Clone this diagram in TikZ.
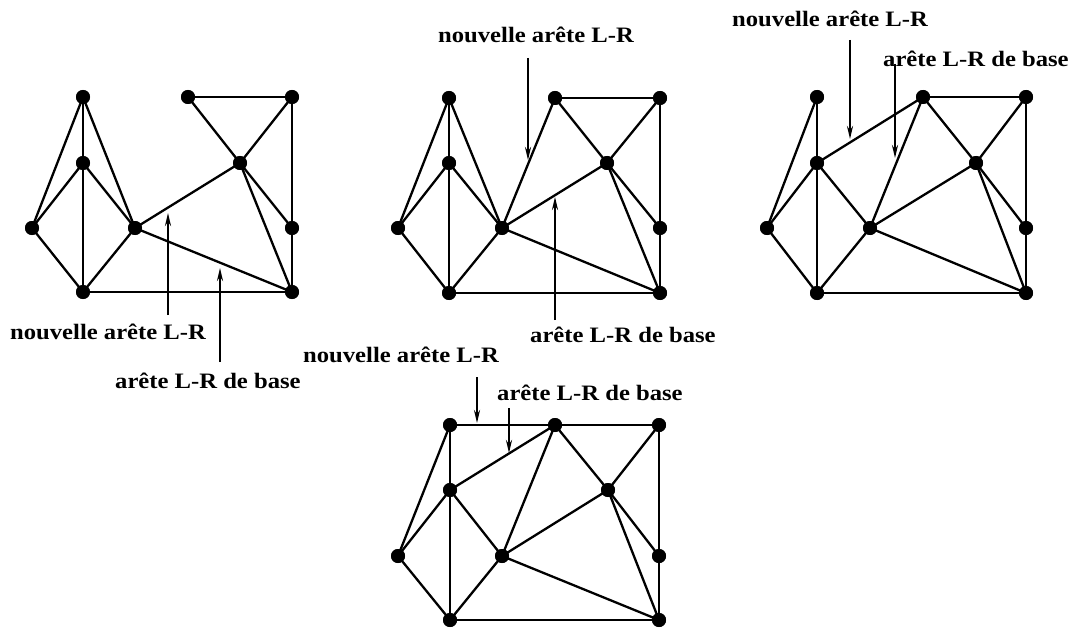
\documentclass[tikz,border=0pt]{standalone}
\usepackage{graphicx}
\usepackage{fontspec}
\setmainfont{Liberation Serif}
\usetikzlibrary{arrows.meta}
\newcommand{\lbltext}[1]{\scalebox{1.12}[1]{#1}}
\begin{document}
\begin{tikzpicture}[x=1pt,y=-1pt,
  vtx/.style={circle,fill=black,inner sep=0pt,minimum size=14pt},
  edge/.style={line width=2.3pt},
  pointer/.style={line width=2pt,-{Stealth[length=13pt,width=6pt]}},
  lbl/.style={inner sep=0pt,anchor=base west,font=\bfseries\fontsize{22}{26}\selectfont}]
\useasboundingbox (0,0) rectangle (1081,631);
\fill[white] (0,0) rectangle (1081,631);

% ---------- graph 1 ----------
\node[vtx] (a1) at (83,97) {};
\node[vtx] (b1) at (83,163) {};
\node[vtx] (c1) at (32,228) {};
\node[vtx] (d1) at (135,228) {};
\node[vtx] (e1) at (83,292) {};
\node[vtx] (f1) at (188,97) {};
\node[vtx] (g1) at (292,97) {};
\node[vtx] (h1) at (240,163) {};
\node[vtx] (i1) at (292,228) {};
\node[vtx] (j1) at (292,292) {};
\foreach \u/\v in {a1/c1,a1/b1,a1/d1,b1/c1,b1/d1,b1/e1,c1/e1,d1/e1,e1/j1,d1/h1,d1/j1,f1/g1,f1/h1,g1/h1,g1/i1,i1/j1,h1/i1,h1/j1}
  \draw[edge] (\u.center) -- (\v.center);

% ---------- graph 2 ----------
\node[vtx] (a2) at (449,98) {};
\node[vtx] (b2) at (449,163) {};
\node[vtx] (c2) at (398,228) {};
\node[vtx] (d2) at (502,228) {};
\node[vtx] (e2) at (449,293) {};
\node[vtx] (f2) at (555,98) {};
\node[vtx] (g2) at (660,98) {};
\node[vtx] (h2) at (607,163) {};
\node[vtx] (i2) at (660,228) {};
\node[vtx] (j2) at (660,293) {};
\foreach \u/\v in {a2/c2,a2/b2,a2/d2,b2/c2,b2/d2,b2/e2,c2/e2,d2/e2,e2/j2,d2/f2,d2/h2,d2/j2,f2/g2,f2/h2,g2/h2,g2/i2,i2/j2,h2/i2,h2/j2}
  \draw[edge] (\u.center) -- (\v.center);

% ---------- graph 3 ----------
\node[vtx] (a3) at (817,97) {};
\node[vtx] (b3) at (817,163) {};
\node[vtx] (c3) at (767,228) {};
\node[vtx] (d3) at (870,228) {};
\node[vtx] (e3) at (817,293) {};
\node[vtx] (f3) at (923,97) {};
\node[vtx] (g3) at (1026,97) {};
\node[vtx] (h3) at (976,163) {};
\node[vtx] (i3) at (1026,228) {};
\node[vtx] (j3) at (1026,293) {};
\foreach \u/\v in {a3/c3,a3/b3,b3/c3,b3/f3,b3/d3,b3/e3,c3/e3,d3/e3,e3/j3,d3/f3,d3/h3,d3/j3,f3/g3,f3/h3,g3/h3,g3/i3,i3/j3,h3/i3,h3/j3}
  \draw[edge] (\u.center) -- (\v.center);

% ---------- graph 4 ----------
\node[vtx] (a4) at (450,425) {};
\node[vtx] (b4) at (450,490) {};
\node[vtx] (c4) at (398,556) {};
\node[vtx] (d4) at (502,556) {};
\node[vtx] (e4) at (450,620) {};
\node[vtx] (f4) at (555,425) {};
\node[vtx] (g4) at (659,425) {};
\node[vtx] (h4) at (608,490) {};
\node[vtx] (i4) at (659,556) {};
\node[vtx] (j4) at (659,620) {};
\foreach \u/\v in {a4/c4,a4/f4,a4/b4,b4/f4,b4/c4,b4/d4,b4/e4,c4/e4,d4/e4,d4/f4,d4/h4,d4/j4,e4/j4,f4/g4,f4/h4,g4/h4,g4/i4,i4/j4,h4/i4,h4/j4}
  \draw[edge] (\u.center) -- (\v.center);

% redraw vertices on top
\foreach \g in {1,2,3,4}
  \foreach \n in {a,b,c,d,e,f,g,h,i,j}
    \fill (\n\g) circle (7pt);

% ---------- labels ----------
\node[lbl] (n1) at (10,339) {\lbltext{nouvelle arête L-R}};
\node[lbl] (s1) at (115,388) {\lbltext{arête L-R de base}};
\node[lbl] (n2) at (438,43) {\lbltext{nouvelle arête L-R}};
\node[lbl] (s2) at (530,342) {\lbltext{arête L-R de base}};
\node[lbl] (n3) at (732,27) {\lbltext{nouvelle arête L-R}};
\node[lbl] (s3) at (883,67) {\lbltext{arête L-R de base}};
\node[lbl] (n4) at (303,362) {\lbltext{nouvelle arête L-R}};
\node[lbl] (s4) at (497,400) {\lbltext{arête L-R de base}};

% ---------- pointers ----------
\coordinate (p1a) at (168,315); \coordinate (p1b) at (168,213);
\coordinate (q1a) at (220,362); \coordinate (q1b) at (220,268);
\coordinate (p2a) at (528,58);  \coordinate (p2b) at (528,160);
\coordinate (q2a) at (555,320); \coordinate (q2b) at (555,197);
\coordinate (p3a) at (850,40);  \coordinate (p3b) at (850,139);
\coordinate (q3a) at (895,64);  \coordinate (q3b) at (895,158);
\coordinate (p4a) at (477,377); \coordinate (p4b) at (477,423);
\coordinate (q4a) at (509,408); \coordinate (q4b) at (509,453);
\foreach \s/\t in {p1a/p1b,q1a/q1b,p2a/p2b,q2a/q2b,p3a/p3b,q3a/q3b,p4a/p4b,q4a/q4b}
  \draw[pointer] (\s) -- (\t);
\end{tikzpicture}
\end{document}
